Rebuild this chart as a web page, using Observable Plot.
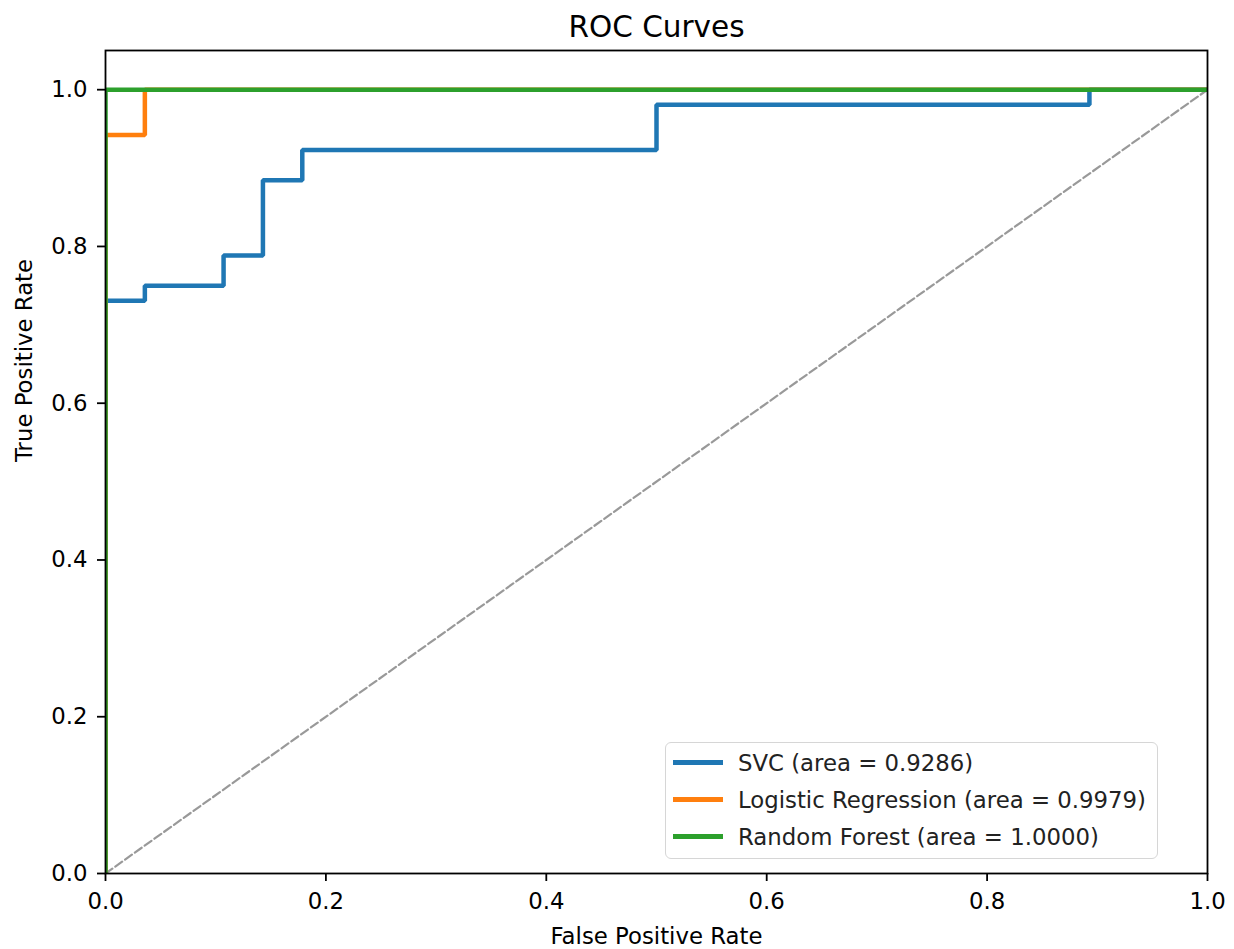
<!DOCTYPE html>
<html>
<head>
<meta charset="utf-8">
<script src="https://cdn.jsdelivr.net/npm/d3@7"></script>
<script src="https://cdn.jsdelivr.net/npm/@observablehq/plot@0.6"></script>
<style>
  html, body { margin: 0; padding: 0; background: #fff; }
  #wrap { position: relative; width: 1234px; height: 949px; font-family: "DejaVu Sans", sans-serif; }
  #legend {
    position: absolute; left: 665px; top: 742px; width: 493px; height: 117px;
    border: 1.5px solid #d6d6d6; border-radius: 6px; background: rgba(255,255,255,0.8);
    box-sizing: border-box; padding-top: 1px;
  }
  .item { display: flex; align-items: center; height: 37px; font-size: 22.8px; color: #222; }
  .sw { width: 50px; height: 4.5px; margin-left: 7px; margin-right: 15px; }
</style>
</head>
<body>
<div id="wrap"><div id="chart"></div><div id="legend"></div></div>
<script>
// Data (ROC curve points: false positive rate, true positive rate)
const models = ["SVC", "Logistic Regression", "Random Forest"];
const aucs = ["0.9286", "0.9979", "1.0000"];
const colors = ["#1f77b4", "#ff7f0e", "#2ca02c"];

const svcFpr = [0, 0, 1/28, 1/28, 3/28, 3/28, 4/28, 4/28, 5/28, 5/28, 14/28, 14/28, 25/28, 25/28, 1];
const svcTpr = [0, 38/52, 38/52, 39/52, 39/52, 41/52, 41/52, 46/52, 46/52, 48/52, 48/52, 51/52, 51/52, 1, 1];
const lrFpr = [0, 0, 1/28, 1/28, 1];
const lrTpr = [0, 49/52, 49/52, 1, 1];
const rfFpr = [0, 0, 1];
const rfTpr = [0, 1, 1];
const chanceFpr = [0, 1];
const chanceTpr = [0, 1];

const xTicks = [0, 0.2, 0.4, 0.6, 0.8, 1.0];
const yTicks = [0, 0.2, 0.4, 0.6, 0.8, 1.0];

const toPts = (fx, ty) => fx.map((f, i) => ({fpr: f, tpr: ty[i]}));
const series = [toPts(svcFpr, svcTpr), toPts(lrFpr, lrTpr), toPts(rfFpr, rfTpr)];

const fontSize = 22.8;
const chart = Plot.plot({
  width: 1234,
  height: 949,
  marginLeft: 105,
  marginRight: 27,
  marginTop: 50,
  marginBottom: 76,
  style: {fontFamily: "DejaVu Sans, sans-serif", fontSize: fontSize + "px", color: "#000", background: "#fff"},
  x: {domain: [0, 1]},
  y: {domain: [0, 1.05]},
  marks: [
    Plot.line(toPts(chanceFpr, chanceTpr), {x: "fpr", y: "tpr", stroke: "#999", strokeWidth: 2.2, strokeDasharray: "8.4,3.6", clip: true}),
    ...series.map((pts, i) => Plot.line(pts, {x: "fpr", y: "tpr", stroke: colors[i], strokeWidth: 4.5, strokeLinejoin: "miter", strokeLinecap: "butt", clip: true})),
    Plot.axisX({ticks: xTicks, tickFormat: d3.format(".1f"), tickSize: 8, tickPadding: 11, strokeWidth: 1.8, label: null, fontSize: fontSize}),
    Plot.axisY({ticks: yTicks, tickFormat: d3.format(".1f"), tickSize: 8, tickPadding: 10, strokeWidth: 1.8, label: null, fontSize: fontSize}),
    Plot.frame({stroke: "#000", strokeWidth: 1.8}),
    Plot.text(["ROC Curves"], {frameAnchor: "top", lineAnchor: "middle", dy: -23, fontSize: 29.5, fill: "#000", text: d => d}),
    Plot.text(["False Positive Rate"], {frameAnchor: "bottom", lineAnchor: "middle", dy: 63, fontSize: fontSize, fill: "#000", text: d => d}),
    Plot.text(["True Positive Rate"], {frameAnchor: "left", lineAnchor: "middle", dx: -81, rotate: -90, fontSize: fontSize, fill: "#000", text: d => d})
  ]
});
document.getElementById("chart").appendChild(chart);

const legend = document.getElementById("legend");
models.forEach((m, i) => {
  const item = document.createElement("div");
  item.className = "item";
  const sw = document.createElement("div");
  sw.className = "sw";
  sw.style.background = colors[i];
  const label = document.createElement("span");
  label.textContent = `${m} (area = ${aucs[i]})`;
  item.appendChild(sw);
  item.appendChild(label);
  legend.appendChild(item);
});
</script>
</body>
</html>
